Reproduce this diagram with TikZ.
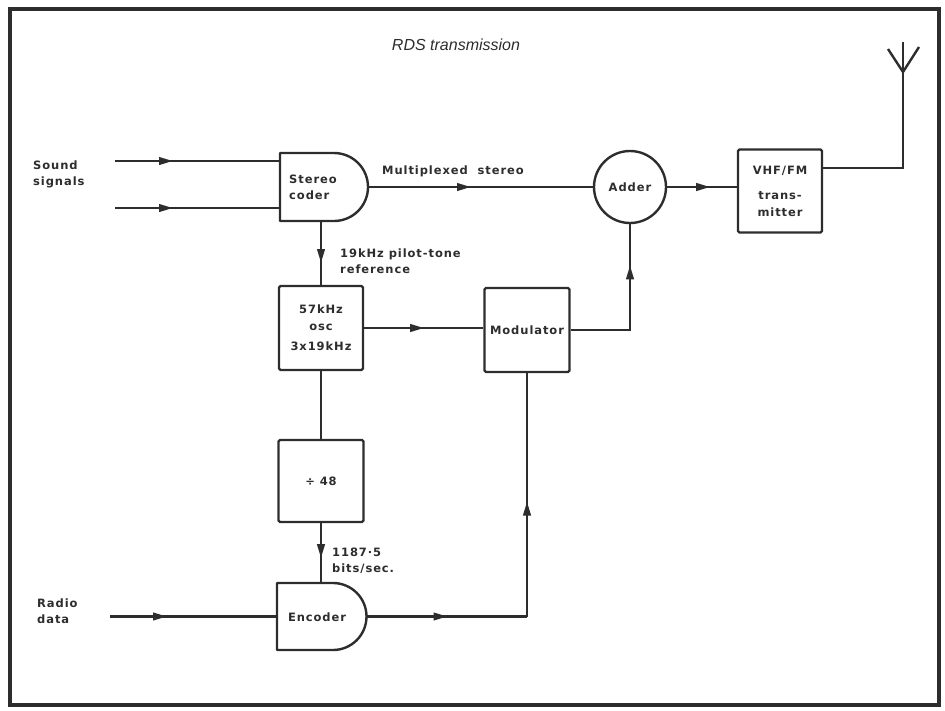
\documentclass[tikz,border=0pt]{standalone}
\usepackage{fontspec}
\setmainfont{DejaVu Sans}
\newfontfamily\labfont[LetterSpace=8]{DejaVu Sans}
\newfontfamily\titlefont{Liberation Sans}
\usetikzlibrary{arrows.meta,decorations.markings,calc}
\definecolor{ink}{RGB}{45,45,45}
\begin{document}
\begin{tikzpicture}[x=1pt,y=-1pt,
  line/.style={draw=ink, line width=2.4pt},
  box/.style={draw=ink, line width=2.4pt, rectangle, rounded corners=1.5pt, inner sep=0pt,
    font=\labfont\bfseries\fontsize{11.5}{17}\selectfont, text=ink, align=center},
  lab/.style={font=\labfont\bfseries\fontsize{11.5}{16}\selectfont, text=ink, inner sep=0pt},
  arr/.style={postaction={decorate}, decoration={markings,
    mark=at position #1 with {\arrow{Triangle[length=14pt,width=7.5pt]}}}},
]
\useasboundingbox (0,0) rectangle (945,710);
% frame
\draw[draw=ink, line width=3.5pt] (10,9) rectangle (939,705);
% title
\node[font=\titlefont\itshape\fontsize{16}{18}\selectfont, text=ink] (title) at (456,45) {RDS transmission};

% labels
\node[lab, anchor=west, align=left] (snd) at (33,174) {Sound\\signals};
\node[lab, anchor=west, align=left] (radio) at (37,611) {Radio\\data};
\node[lab, anchor=west] (mux) at (382,171) {Multiplexed\ \ stereo};
\node[lab, anchor=west, align=left] (pilot) at (340,261) {19kHz pilot-tone\\reference};
\node[lab, anchor=west, align=left] (rate) at (332,561) {1187·5\\bits/sec.};

% stereo coder (D shape)
\coordinate (scNW) at (280,153);
\coordinate (scSW) at (280,221);
\draw[line, line join=round] (scNW) -- ++(54,0) arc(-90:90:34) -- (scSW) -- cycle;
\node[lab, align=left] (sc) at (313,187) {Stereo\\coder};
\coordinate (scOut) at (368,187);
\coordinate (scB) at (321,221);

% inputs
\coordinate (in1) at (115,161);
\coordinate (in2) at (115,208);
\draw[line, arr=58pt] (in1) -- (in1 -| scNW);
\draw[line, arr=58pt] (in2) -- (in2 -| scNW);

% adder
\node[circle, draw=ink, line width=2.4pt, minimum size=72pt, inner sep=0pt,
  font=\labfont\bfseries\fontsize{11.5}{13}\selectfont, text=ink] (add) at (630,187) {Adder};
\draw[line, arr=103pt] (scOut) -- (add.west);

% transmitter
\node[box, minimum width=84pt, minimum height=83pt] (tx) at (780,191) {VHF/FM\\[8pt]trans-\\mitter};
\draw[line, arr=43pt] (add.east) -- (add.east -| tx.west);

% antenna
\coordinate (antTop) at (903,42);
\coordinate (antV) at (903,72);
\draw[line] ([yshift=23pt]tx.east) -| (antTop);
\draw[line, line join=miter] (888,49) -- (antV) -- (919,47);

% 57 kHz oscillator
\node[box, minimum width=84pt, minimum height=84pt] (osc) at (321,328) {57kHz\\osc\\[3pt]3x19kHz};
\draw[line, arr=42pt] (scB) -- (osc.north);

% modulator
\node[box, minimum width=85pt, minimum height=84pt] (mod) at (527,330) {Modulator};
\draw[line, arr=60pt] (osc.east) -- (osc.east -| mod.west);
\draw[line, arr=124pt] (mod.east) -| (add.south);

% divider
\node[box, minimum width=85pt, minimum height=82pt] (div) at (321,481) {÷ 48};
\draw[line] (osc.south) -- (osc.south |- div.north);

% encoder (D shape)
\coordinate (enNW) at (277,583);
\coordinate (enSW) at (277,650);
\draw[line, line join=round] (enNW) -- ++(56,0) arc(-90:90:33.5) -- (enSW) -- cycle;
\node[lab] (enc) at (317,617) {Encoder};
\draw[line, arr=35pt] (div.south) -- (div.south |- enNW);

\coordinate (in3) at (110,616.5);
\draw[line, arr=57pt] (in3) -- (in3 -| enNW);

\coordinate (enOut) at (366.5,616.5);
\coordinate (encCorner) at (mod.south |- enOut);
\draw[line, arr=81pt] (enOut) -- (encCorner);
\draw[line, arr=115pt] (encCorner) -- (mod.south);
\end{tikzpicture}
\end{document}
